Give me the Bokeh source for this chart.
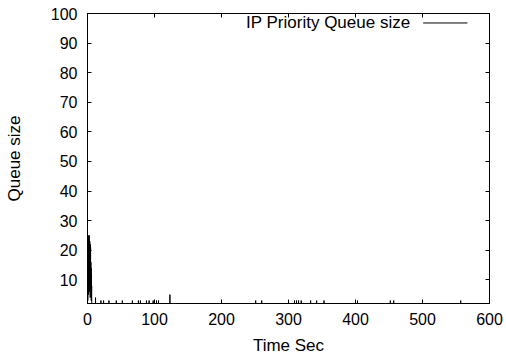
from bokeh.plotting import figure
from bokeh.models import LinearAxis, FixedTicker, Range1d, Label
from bokeh.embed import file_html
from bokeh.resources import INLINE

# Initial burst of the queue (time in s, queue size)
burst_t = [0.0, 0.2, 0.4, 0.6, 0.8, 1.0, 1.2, 1.4, 1.6, 1.8, 2.0, 2.2, 2.4, 2.6,
           2.8, 3.0, 3.2, 3.4, 3.6, 3.8, 4.0, 4.2, 4.4, 4.6, 4.8, 5.0, 5.2, 5.4,
           5.6, 5.8, 6.0, 6.2, 6.4]
burst_q = [0, 25, 3, 24, 8, 25, 12, 23, 5, 24, 17, 22, 9, 25, 14, 21, 6, 23,
           11, 20, 4, 22, 13, 21, 7, 16, 10, 14, 3, 12, 5, 8, 0]

# Isolated small queue events later in the run
spike_t = [12, 20, 24, 32, 43, 52, 67, 76, 79, 88, 92, 98, 103, 106, 123,
           251, 260, 309, 312, 315, 319, 333, 342, 353, 403, 452, 457, 557]
spike_q = [4, 3, 3, 3, 3, 3, 3, 3, 3, 3, 3, 3, 3, 3, 5,
           3, 3, 3, 3, 3, 3, 3, 3, 3, 3, 3, 3, 3]

x_ticks = [0, 100, 200, 300, 400, 500, 600]
y_ticks = [10, 20, 30, 40, 50, 60, 70, 80, 90, 100]
legend_label = "IP Priority Queue size"

# build the full series: zero baseline around each event
times = list(burst_t)
queue = list(burst_q)
for t, q in zip(spike_t, spike_q):
    times += [t - 0.2, t, t + 0.2]
    queue += [0, q, 0]
times.append(600)
queue.append(0)

FONT = "Liberation Sans"

p = figure(width=506, height=358, output_backend="svg", toolbar_location=None,
           x_range=Range1d(0, 600), y_range=Range1d(2, 100),
           min_border_left=87, min_border_right=17, min_border_top=13,
           min_border_bottom=55, x_axis_label="Time Sec", y_axis_label="Queue size")
p.background_fill_color = "white"
p.border_fill_color = "white"
p.grid.visible = False
p.outline_line_color = "black"
p.outline_line_width = 1

bottom = p.below[0]
left = p.left[0]
bottom.ticker = FixedTicker(ticks=x_ticks)
left.ticker = FixedTicker(ticks=y_ticks)

p.line(times, queue, line_color="black", line_width=1)

# mirror axes (top/right) with inward ticks only
top = LinearAxis(ticker=FixedTicker(ticks=x_ticks))
right = LinearAxis(ticker=FixedTicker(ticks=y_ticks))
p.add_layout(top, "above")
p.add_layout(right, "right")

for ax in (bottom, left, top, right):
    ax.major_tick_in = 4
    ax.major_tick_out = 0
    ax.minor_tick_line_color = None
    ax.axis_line_color = "black"
    ax.major_tick_line_color = "black"
    ax.major_label_text_font = FONT
    ax.major_label_text_font_size = "16px"
    ax.major_label_text_color = "black"
    ax.axis_label_text_font = FONT
    ax.axis_label_text_font_size = "17px"
    ax.axis_label_text_font_style = "normal"
    ax.axis_label_text_color = "black"

for ax in (top, right):
    ax.major_label_text_font_size = "8px"
    ax.major_label_text_color = None
    ax.major_label_standoff = 0

bottom.major_label_standoff = 9
bottom.axis_label_standoff = 8
left.major_label_standoff = 10
left.axis_label_standoff = 24

# gnuplot-style key: text then sample line, top right
p.add_layout(Label(x=482, y=96.8, text=legend_label, text_font=FONT,
                   text_font_size="17px", text_align="right",
                   text_baseline="middle", text_color="black"))
p.line([501, 567], [96.8, 96.8], line_color="black", line_width=1)

open("out.html", "w").write(file_html(p, INLINE))
